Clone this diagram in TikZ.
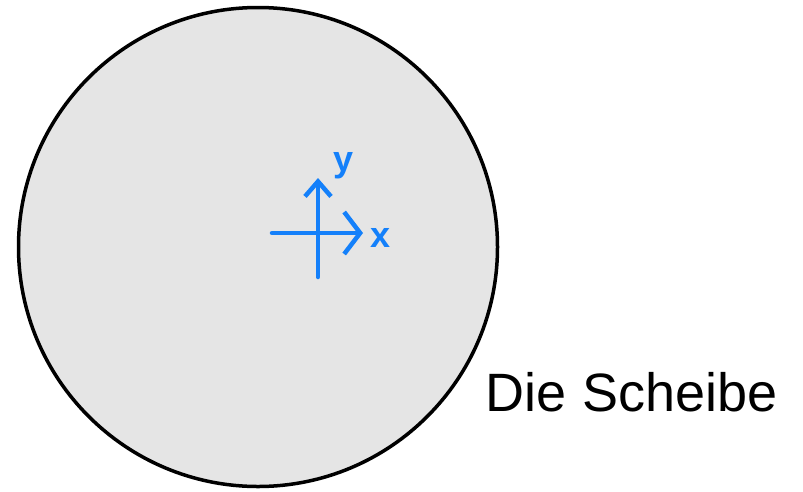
\documentclass[tikz,border=0pt]{standalone}
\usepackage{fontspec}
\setmainfont{Liberation Sans}
\usetikzlibrary{arrows.meta}
\definecolor{axblue}{RGB}{20,128,250}
\definecolor{discgray}{RGB}{229,229,229}
\tikzset{
  axis/.style={draw=axblue, line width=4.5pt, line cap=round, line join=round},
  axlabel/.style={text=axblue, font=\bfseries\fontsize{36}{36}\selectfont, inner sep=0pt},
}
\begin{document}
\begin{tikzpicture}[x=1pt,y=-1pt]
\useasboundingbox (0,0) rectangle (803,491);
\node (disc) [circle, draw=black, line width=3.5pt, fill=discgray, minimum size=479pt, inner sep=0pt] at (258,247) {};
\coordinate (xs) at (272,233);
\coordinate (xe) at (363,233);
\coordinate (ys) at (318,277);
\coordinate (ye) at (318,178);
\draw[axis, -{Straight Barb[length=16pt,width=42pt,line width=4.5pt]}] (xs) -- (xe);
\draw[axis, -{Straight Barb[length=15pt,width=26pt,line width=4.5pt]}] (ys) -- (ye);
\node (ylab) [axlabel] at (344,166) {y};
\node (xlab) [axlabel] at (381,238) {x};
\node (title) [inner sep=0pt, anchor=base west, font=\fontsize{54}{54}\selectfont] at (485,411) {Die\hspace{16pt}Scheibe};
\end{tikzpicture}
\end{document}
